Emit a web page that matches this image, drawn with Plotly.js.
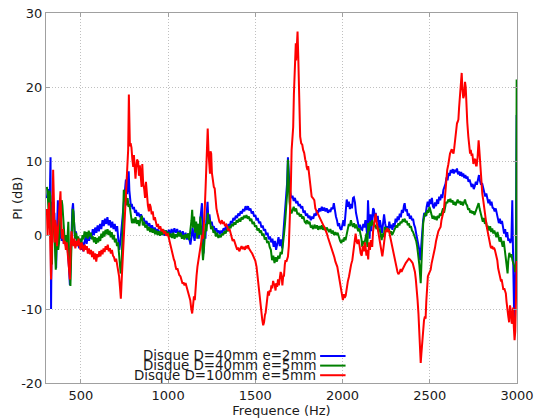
<!DOCTYPE html>
<html>
<head>
<meta charset="utf-8">
<script src="https://cdn.plot.ly/plotly-3.0.1.min.js"></script>
<style>
  html, body { margin: 0; padding: 0; background: #ffffff; }
  #chart { width: 535px; height: 419px; }
</style>
</head>
<body>
<div id="chart"></div>
<script>
// Insertion loss PI (dB) versus frequency for three disc configurations.

const seriesNames = ["Disque D=40mm e=2mm", "Disque D=40mm e=5mm", "Disque D=100mm e=5mm"];
const seriesColors = ["#0000ff", "#008000", "#ff0000"];

const xTicks = [500, 1000, 1500, 2000, 2500, 3000];
const yTicks = [-20, -10, 0, 10, 20, 30];

// D=40mm, e=2mm
const freqBlue = [
305,312,318,322,326,329,333,338,343,348,353,358,363,368,373,378,384,390,396,402,408,414,420,426,432,437,441,446,451,455,
460,466,472,478,484,490,496,502,508,514,520,527,533,540,547,554,561,568,575,582,589,596,603,610,617,624,631,638,645,652,
659,666,673,680,687,694,701,708,714,720,726,732,738,743,748,753,758,762,766,770,774,778,782,787,792,797,804,810,816,822,
830,838,845,852,860,868,876,884,892,900,908,916,924,932,940,948,956,964,972,980,988,996,1004,1012,1020,1028,1036,1044,1052,1060,
1068,1076,1084,1092,1100,1108,1116,1122,1128,1134,1140,1146,1152,1158,1164,1170,1176,1182,1188,1194,1199,1203,1208,1214,1220,1226,1231,1237,1243,1250,
1256,1262,1269,1276,1283,1290,1297,1304,1311,1318,1325,1332,1339,1346,1353,1360,1367,1374,1381,1388,1395,1402,1409,1416,1423,1430,1437,1444,1451,1458,
1465,1472,1479,1486,1493,1500,1507,1514,1521,1528,1535,1542,1549,1556,1563,1570,1577,1584,1591,1598,1605,1612,1619,1626,1633,1640,1647,1654,1660,1666,
1672,1677,1682,1687,1691,1696,1701,1707,1713,1720,1727,1734,1741,1748,1755,1762,1769,1776,1783,1790,1797,1804,1811,1818,1825,1832,1839,1846,1853,1860,
1867,1874,1881,1888,1895,1902,1909,1916,1923,1930,1937,1944,1950,1956,1962,1968,1974,1980,1986,1993,1999,2005,2011,2017,2024,2030,2036,2042,2048,2054,
2060,2065,2071,2077,2083,2088,2094,2100,2106,2113,2119,2125,2131,2137,2141,2146,2150,2155,2160,2165,2170,2175,2180,2185,2190,2196,2202,2208,2214,2220,
2226,2232,2238,2244,2250,2256,2262,2268,2274,2280,2286,2292,2298,2304,2310,2316,2322,2328,2334,2340,2346,2352,2356,2362,2368,2374,2380,2386,2392,2398,
2404,2410,2416,2422,2428,2434,2440,2445,2450,2456,2462,2468,2475,2482,2488,2494,2500,2506,2512,2518,2524,2530,2536,2542,2548,2554,2560,2566,2572,2578,
2584,2590,2596,2602,2608,2614,2620,2626,2632,2638,2644,2650,2656,2662,2668,2674,2680,2686,2692,2698,2704,2710,2716,2722,2728,2734,2740,2746,2752,2758,
2764,2770,2776,2782,2788,2794,2800,2806,2812,2818,2824,2830,2836,2842,2848,2854,2860,2866,2872,2878,2884,2890,2896,2902,2908,2914,2920,2926,2932,2938,
2944,2950,2956,2962,2968,2973,2977,2981,2985,2989,2993,2996,2998
];
const piBlue = [
5.0,6.2,3.5,5.5,10.5,-10.0,2.0,4.5,1.0,3.0,-1.0,-4.5,0.5,4.7,1.5,-0.5,1.5,-0.8,0.5,-1.2,-0.3,-1.5,-0.5,-2.0,-4.5,-6.8,-3.0,1.0,3.5,4.3,
1.5,-0.5,0.5,-1.5,-0.5,-1.8,-0.8,-2.0,-1.0,-2.2,-1.0,-0.3,-1.2,0.0,-0.8,0.3,-0.5,0.8,0.0,1.0,0.3,1.3,0.5,1.5,0.8,2.0,1.2,2.2,1.5,2.4,
1.3,2.0,1.0,1.8,0.8,1.5,0.5,1.2,-0.5,-2.0,-1.0,0.5,2.5,4.3,5.5,6.5,7.5,7.0,5.5,7.8,8.6,6.0,4.5,3.8,4.2,3.5,3.8,3.0,3.4,2.6,
3.0,2.4,2.8,2.0,2.3,1.5,1.9,1.2,1.6,0.9,1.3,0.6,1.0,0.4,0.8,0.2,0.6,0.0,0.5,-0.1,0.6,0.0,0.7,0.1,0.8,0.2,0.9,0.3,0.8,0.0,
0.6,-0.2,0.5,-0.4,0.3,-0.6,0.2,-0.5,-1.3,-0.3,1.0,0.0,-0.8,0.5,1.5,0.3,-0.5,1.5,3.0,4.3,1.0,-2.5,0.5,-0.5,2.5,4.5,2.0,2.8,1.5,1.8,
1.0,1.2,0.5,0.9,0.3,0.6,0.1,0.5,0.4,0.9,0.6,1.2,0.8,1.5,1.2,1.9,1.6,2.3,2.0,2.6,2.3,2.9,2.6,3.2,2.9,3.5,3.2,3.9,3.4,3.9,
3.3,3.6,2.9,3.2,2.5,2.7,2.0,2.3,1.6,1.8,1.0,1.3,0.6,0.8,0.0,0.3,-0.6,-0.2,-1.0,-0.5,-1.6,-0.8,-2.0,-1.0,-0.3,-1.5,-0.6,-1.8,0.0,2.0,
4.5,5.5,7.0,10.5,8.0,6.5,5.6,5.0,5.3,4.6,5.0,4.3,4.6,3.9,4.2,3.6,3.9,3.0,3.3,2.6,2.9,2.3,2.6,2.0,2.5,2.2,2.9,2.6,3.3,3.0,
3.6,3.2,3.8,3.3,3.7,3.2,3.6,3.0,3.4,3.1,3.7,3.5,4.3,3.2,2.5,2.0,1.2,1.6,0.9,0.7,1.5,2.0,1.2,3.0,4.8,3.8,4.5,3.5,4.2,3.6,
5.0,5.1,4.4,3.0,2.2,1.6,1.0,1.4,0.8,0.7,1.5,1.0,2.0,1.0,0.0,4.7,1.5,-0.5,2.8,0.5,2.2,3.6,3.4,2.0,3.0,1.8,2.6,0.9,2.0,1.0,
0.3,1.5,2.8,1.6,0.8,1.2,0.6,1.8,0.9,1.4,0.7,1.6,1.1,2.2,1.7,2.5,2.0,2.9,2.4,3.4,3.0,4.0,4.3,3.2,3.5,2.6,2.9,2.2,2.6,2.0,
2.2,1.4,1.0,0.2,-0.5,-1.2,-2.0,-3.4,-1.5,0.5,2.0,3.0,2.5,3.8,4.5,3.8,4.8,4.2,5.0,3.9,3.6,4.4,3.9,4.8,4.2,5.2,4.7,5.5,5.0,6.1,
6.5,6.9,7.8,7.4,8.4,8.0,8.8,8.4,8.9,8.3,8.8,8.5,9.0,8.2,8.6,8.0,8.5,7.9,8.3,7.7,8.1,7.6,7.9,7.2,7.5,7.0,6.5,6.9,6.2,6.6,
7.2,6.8,7.8,8.1,7.3,6.8,7.0,6.4,6.0,5.2,5.6,4.7,4.3,4.8,4.0,4.5,3.7,3.6,3.2,3.6,2.9,2.5,1.6,2.2,1.5,1.9,0.6,0.2,0.8,-0.3,
0.4,-0.8,-0.5,-1.1,-0.5,4.7,-2.0,-5.6,-12.8,-8.0,-3.0,7.9,16.2
];

// D=40mm, e=5mm
const freqGreen = [
305,310,315,320,325,330,334,338,343,347,352,356,360,365,370,375,380,385,390,394,398,403,408,413,418,423,428,432,437,440,
444,449,453,457,462,467,473,479,485,491,497,503,509,515,521,527,533,539,545,551,557,563,569,575,581,587,593,599,605,611,
617,623,629,635,641,647,653,659,665,671,677,683,689,695,701,707,713,718,723,728,733,737,741,746,750,754,758,763,768,773,
778,783,788,793,799,806,813,820,828,835,842,850,855,862,869,876,883,890,897,904,911,918,925,932,939,946,953,960,967,974,
981,988,995,1002,1009,1016,1023,1030,1037,1044,1051,1058,1065,1072,1079,1086,1093,1100,1107,1114,1121,1128,1134,1138,1143,1149,1155,1161,1167,1173,
1179,1185,1190,1195,1200,1205,1210,1215,1220,1228,1234,1240,1246,1253,1260,1267,1274,1281,1288,1295,1302,1309,1316,1323,1330,1337,1344,1351,1358,1365,
1372,1379,1386,1393,1400,1407,1414,1421,1428,1435,1442,1449,1456,1463,1470,1477,1484,1491,1498,1505,1512,1519,1526,1533,1540,1547,1554,1561,1568,1575,
1582,1589,1596,1603,1610,1617,1624,1631,1638,1645,1652,1658,1664,1670,1676,1682,1687,1691,1696,1701,1707,1713,1720,1727,1734,1741,1748,1755,1762,1769,
1776,1783,1790,1797,1804,1811,1818,1825,1832,1839,1846,1853,1860,1867,1874,1881,1888,1895,1902,1909,1916,1923,1930,1937,1944,1951,1958,1965,1972,1979,
1986,1993,1999,2005,2011,2017,2024,2030,2036,2042,2048,2054,2060,2066,2072,2078,2084,2090,2096,2102,2108,2113,2119,2125,2131,2137,2142,2147,2152,2158,
2164,2170,2176,2182,2188,2194,2200,2206,2212,2218,2224,2230,2236,2242,2248,2254,2260,2266,2272,2278,2284,2290,2296,2302,2308,2314,2320,2326,2332,2338,
2344,2350,2356,2362,2368,2374,2380,2386,2392,2398,2404,2410,2416,2422,2428,2434,2440,2445,2448,2452,2457,2462,2468,2474,2480,2486,2492,2498,2504,2510,
2516,2522,2528,2534,2540,2546,2552,2558,2564,2570,2576,2582,2588,2594,2600,2606,2612,2618,2624,2630,2636,2642,2648,2654,2660,2666,2672,2678,2684,2690,
2696,2702,2708,2714,2720,2726,2732,2738,2744,2750,2756,2762,2768,2774,2780,2786,2792,2798,2804,2810,2816,2822,2828,2834,2840,2846,2852,2858,2864,2870,
2876,2882,2888,2894,2900,2906,2912,2918,2924,2930,2936,2942,2946,2950,2956,2962,2968,2974,2980,2985,2990,2995,2998
];
const piGreen = [
6.5,5.5,3.0,6.0,5.2,1.0,-4.0,2.0,4.5,1.5,-2.5,-4.7,-1.5,0.5,-2.0,-1.0,1.5,3.0,4.7,4.0,2.0,0.5,-1.0,0.0,-1.5,-0.5,1.8,-2.0,-5.0,-6.9,
-3.0,0.5,3.5,3.2,1.0,-0.5,0.3,-1.0,-0.2,-1.5,-0.5,-1.2,0.0,-0.6,0.5,-0.3,0.4,-0.5,0.6,-0.2,0.3,-0.6,-0.2,-1.0,-0.3,-1.2,-0.4,-1.0,-0.2,-0.8,
0.2,-0.4,0.5,-0.2,0.7,0.1,0.8,0.0,0.6,-0.3,0.4,-0.6,0.0,-1.0,-0.5,-1.5,-1.0,-2.5,-3.6,-5.2,-4.5,-2.0,2.0,6.1,5.8,4.5,5.5,4.0,5.0,3.8,
4.2,3.0,2.5,1.6,2.2,1.6,2.4,1.5,2.0,1.2,2.2,2.6,1.3,1.8,1.0,1.4,0.6,1.1,0.4,0.9,0.3,0.8,0.1,0.6,0.0,0.5,-0.1,0.5,0.0,0.7,
0.1,0.6,-0.1,0.4,-0.3,0.2,-0.4,0.3,-0.5,0.1,-0.3,0.4,-0.2,0.3,-0.5,0.0,-0.6,0.1,-0.4,0.2,-0.7,0.4,2.0,3.4,1.0,2.5,0.3,1.8,-0.5,1.5,
0.0,2.5,0.5,-1.8,-3.4,-2.0,0.5,1.5,0.5,3.0,1.5,2.0,0.8,1.2,0.3,0.6,-0.2,0.3,-0.4,0.0,-0.3,0.2,0.0,0.5,0.2,0.8,0.5,1.2,0.9,1.5,
1.2,1.7,1.4,2.0,1.7,2.2,1.8,2.4,2.1,2.6,2.3,2.7,2.2,2.5,1.9,2.2,1.5,1.8,1.1,1.3,0.6,0.9,0.3,0.6,-0.1,0.2,-0.6,-0.3,-1.1,-0.8,
-1.6,-2.0,-3.4,-2.8,-3.8,-3.0,-3.6,-2.8,-3.2,-2.3,-2.6,-1.5,0.0,1.5,4.0,5.5,10.2,6.0,4.5,3.5,2.9,3.3,3.8,3.2,3.6,2.8,3.0,2.5,2.8,2.2,
2.5,1.8,1.6,2.0,1.5,1.8,1.0,1.2,0.8,1.4,0.9,1.3,0.7,1.2,0.8,1.3,0.7,1.1,0.6,1.0,0.7,0.4,0.8,0.2,0.6,0.0,0.4,0.0,0.3,-0.4,
-0.8,-1.1,-0.6,-0.9,-0.3,-0.7,0.3,0.8,1.5,1.2,2.0,1.4,1.1,1.6,0.9,1.4,0.7,0.5,0.9,0.2,-0.5,-1.6,-0.8,-1.2,-0.3,0.2,-1.6,1.6,0.5,1.8,
1.2,2.0,1.5,1.1,1.4,0.8,1.2,0.5,0.9,-0.2,-0.7,0.2,-0.3,1.1,0.6,1.0,0.4,0.8,0.2,0.5,0.0,0.3,0.6,0.9,1.3,1.0,1.6,1.3,1.8,1.6,
2.0,1.9,2.2,1.7,1.9,1.3,1.6,1.0,1.2,0.6,0.4,0.0,-0.3,-0.8,-1.6,-2.5,-4.0,-5.5,-6.5,-4.0,-1.0,1.5,2.5,3.0,2.6,3.4,3.0,3.8,3.3,2.8,
2.2,2.6,2.1,2.5,2.0,2.6,2.3,2.9,2.6,3.1,3.6,3.0,4.0,4.5,4.3,4.8,4.5,4.9,4.4,4.7,4.1,4.5,4.0,4.4,4.8,4.3,4.6,4.1,4.5,4.0,
4.3,4.8,4.2,4.0,3.4,3.6,3.0,3.3,2.9,3.2,2.7,3.1,3.5,4.0,4.3,3.5,3.0,2.2,1.8,2.3,1.5,1.9,1.0,1.1,0.6,1.2,0.4,0.9,0.2,0.6,
-0.1,-0.3,0.4,-0.4,-0.9,-0.3,-1.2,-1.6,-0.8,-2.0,-2.9,-3.8,-5.2,-3.5,-2.4,-3.0,-2.6,-3.4,-3.8,-4.3,-5.0,-4.5,21.0
];

// D=100mm, e=5mm
const freqRed = [
305,309,313,318,322,326,329,333,337,341,345,349,353,358,363,368,373,378,383,387,392,397,402,408,414,419,424,429,433,437,
441,446,451,456,462,468,474,480,486,492,498,504,510,516,522,528,534,540,546,552,558,564,570,576,582,588,594,600,606,612,
618,624,630,636,642,648,654,660,666,672,678,684,690,696,702,708,714,719,724,729,734,739,744,749,753,758,762,766,771,775,
778,781,785,790,795,800,804,809,813,817,822,828,833,838,843,848,852,857,863,868,873,878,884,890,895,900,906,912,918,924,
930,936,942,948,955,962,969,976,983,990,998,1005,1012,1018,1023,1028,1033,1038,1043,1048,1053,1058,1064,1071,1077,1083,1088,1094,1100,1106,
1112,1117,1122,1127,1133,1138,1143,1148,1153,1158,1163,1168,1174,1180,1186,1191,1196,1200,1205,1210,1215,1219,1223,1227,1232,1236,1240,1243,1247,1251,
1256,1262,1267,1272,1277,1282,1288,1294,1301,1308,1314,1320,1326,1333,1339,1345,1352,1358,1364,1370,1377,1383,1389,1396,1402,1408,1415,1421,1428,1434,
1440,1446,1452,1458,1463,1469,1476,1482,1488,1494,1500,1507,1512,1516,1520,1525,1530,1534,1540,1545,1550,1555,1559,1564,1568,1573,1578,1582,1587,1592,
1597,1602,1606,1611,1616,1620,1625,1630,1635,1640,1645,1650,1655,1660,1664,1669,1673,1678,1683,1687,1692,1698,1703,1708,1713,1717,1721,1725,1729,1732,
1734,1738,1742,1746,1750,1752,1757,1763,1769,1774,1780,1786,1791,1794,1799,1803,1808,1813,1818,1823,1830,1838,1844,1850,1857,1865,1872,1879,1884,1892,
1897,1903,1910,1916,1922,1928,1934,1941,1947,1953,1959,1965,1970,1975,1980,1985,1989,1994,1998,2002,2007,2012,2018,2024,2030,2037,2043,2049,2056,2061,
2066,2071,2075,2080,2086,2092,2098,2104,2110,2116,2122,2128,2132,2137,2142,2147,2152,2157,2162,2166,2170,2175,2180,2185,2190,2195,2200,2205,2209,2214,
2219,2224,2228,2233,2238,2243,2247,2252,2257,2262,2266,2271,2276,2281,2285,2290,2295,2300,2305,2310,2315,2320,2323,2328,2333,2338,2343,2348,2353,2358,
2362,2368,2374,2380,2386,2391,2396,2402,2406,2410,2415,2420,2425,2430,2435,2438,2442,2445,2448,2452,2455,2458,2462,2467,2472,2476,2480,2484,2489,2494,
2500,2505,2510,2515,2520,2524,2530,2536,2543,2549,2555,2562,2567,2572,2577,2581,2585,2590,2595,2600,2606,2612,2616,2621,2626,2631,2636,2640,2644,2648,
2652,2656,2660,2664,2668,2673,2678,2683,2687,2692,2696,2702,2706,2710,2715,2721,2725,2731,2735,2740,2744,2750,2755,2760,2765,2769,2774,2780,2784,2788,
2794,2798,2801,2807,2811,2816,2821,2826,2830,2835,2840,2845,2849,2854,2858,2862,2868,2873,2878,2883,2887,2892,2897,2902,2907,2912,2917,2922,2927,2932,
2936,2940,2945,2950,2955,2960,2965,2970,2974,2978,2982,2986,2990,2993,2996,2999
];
const piRed = [
3.5,0.0,2.0,4.4,1.5,-2.0,-6.0,-3.0,2.5,8.8,5.0,-1.0,2.0,1.1,-1.5,0.5,2.5,4.0,5.9,2.0,-0.5,0.8,-1.2,-0.8,-2.0,-1.0,-2.5,-3.5,-5.6,-6.0,
-2.0,0.5,-0.5,-1.5,-0.5,-1.8,-0.8,-1.5,-0.5,-1.2,-2.0,-1.0,-1.6,-2.2,-1.3,-2.0,-1.5,-2.5,-1.8,-2.6,-2.0,-3.0,-2.2,-3.3,-2.5,-3.6,-2.6,-3.0,-2.2,-2.9,
-2.0,-2.6,-1.8,-2.3,-1.5,-2.0,-1.3,-2.2,-1.8,-2.5,-2.0,-2.8,-3.0,-3.6,-3.2,-4.0,-4.5,-5.6,-7.0,-8.6,-6.0,-3.5,-1.0,1.5,3.5,5.0,7.0,10.0,11.5,19.0,
15.0,12.0,12.4,11.8,10.2,9.2,10.8,8.8,7.6,9.0,10.2,9.9,8.0,9.4,7.5,6.5,9.6,7.0,6.2,5.0,7.2,5.5,4.0,3.2,4.2,3.8,2.8,3.2,2.0,2.4,
1.6,1.1,1.5,0.8,1.2,0.5,0.8,0.2,0.5,-0.1,0.2,-0.6,-1.2,-1.6,-2.2,-2.8,-3.3,-3.6,-4.3,-4.7,-4.5,-5.0,-5.4,-5.6,-6.0,-6.6,-6.4,-6.8,-6.5,-7.0,
-7.3,-7.8,-8.3,-8.8,-10.0,-10.6,-9.5,-8.3,-8.8,-6.5,-5.5,-4.3,-3.5,-2.5,-1.8,-1.0,0.0,-0.5,1.0,3.5,6.5,9.0,11.0,14.4,11.0,8.6,8.3,11.3,11.0,8.4,
7.0,6.5,6.3,4.5,3.6,3.0,2.2,1.8,1.6,2.0,1.5,1.8,1.2,1.4,1.1,0.6,0.8,0.2,-0.2,-0.8,-0.6,-1.2,-1.5,-2.0,-1.7,-2.2,-1.8,-1.5,-1.9,-1.6,
-2.0,-1.5,-1.7,-1.4,-1.8,-2.1,-2.3,-2.5,-2.9,-3.0,-3.5,-4.3,-5.5,-6.0,-7.0,-8.0,-9.5,-10.6,-11.5,-12.2,-11.8,-10.8,-10.5,-9.5,-8.2,-7.6,-8.2,-7.5,-7.7,-6.8,
-7.2,-6.2,-6.6,-6.8,-7.5,-6.5,-7.0,-6.0,-6.8,-5.8,-5.0,-5.3,-6.8,-5.5,-5.6,-4.0,-3.4,-3.6,-3.0,-2.9,-1.5,2.0,6.0,11.5,13.3,14.6,19.0,21.4,24.5,25.9,
23.6,27.3,27.5,24.2,21.0,18.2,13.3,12.4,12.2,11.5,11.1,10.2,9.8,9.2,8.8,9.3,8.2,7.2,6.8,5.2,5.0,4.7,3.6,3.3,2.8,2.5,2.0,1.8,1.6,1.2,
1.0,0.7,0.2,-0.3,-0.7,-1.2,-1.6,-2.0,-2.5,-3.0,-3.6,-4.0,-4.3,-5.0,-5.8,-6.5,-7.0,-7.8,-8.4,-8.8,-8.0,-8.5,-8.2,-7.0,-6.3,-5.6,-4.5,-4.0,-3.4,-2.2,
-1.0,-0.5,0.2,-0.8,-1.2,-0.6,-1.8,-2.5,-2.8,-1.5,-2.2,-1.0,-1.6,-2.8,-2.0,-3.3,-1.0,-2.0,-0.7,-1.3,-1.6,0.5,1.5,2.2,2.9,1.8,1.0,0.5,0.2,-0.8,
-1.8,-2.5,-2.9,-2.0,-1.0,0.2,0.7,0.4,0.9,0.5,0.7,0.0,-0.6,-1.0,-1.6,-2.3,-3.0,-3.6,-4.3,-4.6,-5.0,-5.3,-5.2,-5.0,-4.6,-5.0,-4.7,-4.4,-4.1,-3.8,
-3.8,-3.6,-3.4,-3.2,-3.3,-3.4,-3.6,-3.8,-4.2,-4.4,-5.0,-6.0,-7.0,-8.8,-10.6,-12.4,-14.5,-16.0,-17.3,-16.0,-15.0,-14.6,-12.8,-11.5,-11.0,-11.3,-9.0,-7.0,-5.6,-5.3,
-4.8,-4.7,-3.9,-3.4,-2.9,-2.5,-1.7,-0.8,0.0,0.5,0.8,1.1,2.0,2.8,3.0,3.4,4.7,6.5,7.8,8.8,9.5,10.6,11.0,11.3,11.6,11.2,11.0,11.7,12.6,12.8,
14.5,15.1,15.3,15.6,17.2,19.1,20.5,21.9,19.8,18.5,18.8,20.7,20.0,16.7,15.2,13.3,12.5,11.0,11.5,10.7,11.0,9.6,10.1,10.3,9.4,9.4,10.5,12.8,11.5,10.0,
8.4,7.0,5.6,4.6,3.8,2.5,2.0,1.2,0.7,0.0,-0.8,-1.2,-1.6,-1.8,-1.5,-1.9,-1.7,-2.0,-2.4,-2.9,-3.4,-4.5,-5.2,-5.6,-6.1,-6.0,-6.8,-7.4,-7.2,-7.6,
-7.9,-9.0,-10.6,-11.0,-11.8,-9.5,-10.3,-12.0,-11.0,-9.8,-12.5,-14.2,-13.0,-9.0,-4.7,-3.5
];

const fontFamily = "'DejaVu Sans', Verdana, sans-serif";
const textColor = "#1a1a1a";

const xs = [freqBlue, freqGreen, freqRed];
const ys = [piBlue, piGreen, piRed];

const traces = xs.map((x, i) => ({
  type: "scatter",
  mode: "lines",
  x: x,
  y: ys[i],
  name: seriesNames[i],
  line: { color: seriesColors[i], width: 2 },
  showlegend: false,
  hoverinfo: "x+y+name"
}));

// Compact stacked legend in the lower part of the plot area
const legendTextX = 0.576;
const legendLineX0 = 0.582;
const legendLineX1 = 0.636;
const legendRowsY = [0.073, 0.047, 0.021];

const annotations = seriesNames.map((name, i) => ({
  xref: "paper", yref: "paper",
  x: legendTextX, y: legendRowsY[i],
  xanchor: "right", yanchor: "middle",
  text: name,
  showarrow: false,
  borderpad: 0,
  font: { family: fontFamily, size: 13.4, color: textColor }
}));

// Vertical axis title, placed beside the tick labels
annotations.push({
  xref: "paper", yref: "paper",
  x: -0.062, y: 0.5,
  xanchor: "center", yanchor: "middle",
  textangle: -90,
  text: "PI (dB)",
  showarrow: false,
  borderpad: 0,
  font: { family: fontFamily, size: 13, color: textColor }
});

const shapes = seriesNames.map((name, i) => ({
  type: "line",
  xref: "paper", yref: "paper",
  x0: legendLineX0, x1: legendLineX1,
  y0: legendRowsY[i], y1: legendRowsY[i],
  line: { color: seriesColors[i], width: 2 }
}));

const axisCommon = {
  showgrid: true,
  gridcolor: "#c0c0c0",
  griddash: "1px,2px",
  gridwidth: 1,
  zeroline: false,
  showline: true,
  linecolor: "#a0a0a0",
  linewidth: 1,
  mirror: "allticks",
  ticks: "inside",
  ticklen: 4,
  tickcolor: "#a0a0a0",
  tickfont: { family: fontFamily, size: 13, color: textColor }
};

const layout = {
  width: 535,
  height: 419,
  margin: { l: 46, r: 18, t: 13, b: 36, pad: 0 },
  paper_bgcolor: "#ffffff",
  plot_bgcolor: "#ffffff",
  font: { family: fontFamily, size: 13, color: textColor },
  xaxis: Object.assign({}, axisCommon, {
    range: [300, 3000],
    tickvals: xTicks,
    ticktext: xTicks.map(String),
    title: { text: "Frequence (Hz)", font: { family: fontFamily, size: 13, color: textColor }, standoff: 2 }
  }),
  yaxis: Object.assign({}, axisCommon, {
    range: [-20, 30],
    tickvals: yTicks,
    ticktext: yTicks.map(String)
  }),
  annotations: annotations,
  shapes: shapes,
  showlegend: false
};

Plotly.newPlot("chart", traces, layout, { displayModeBar: false, staticPlot: true });
</script>
</body>
</html>
